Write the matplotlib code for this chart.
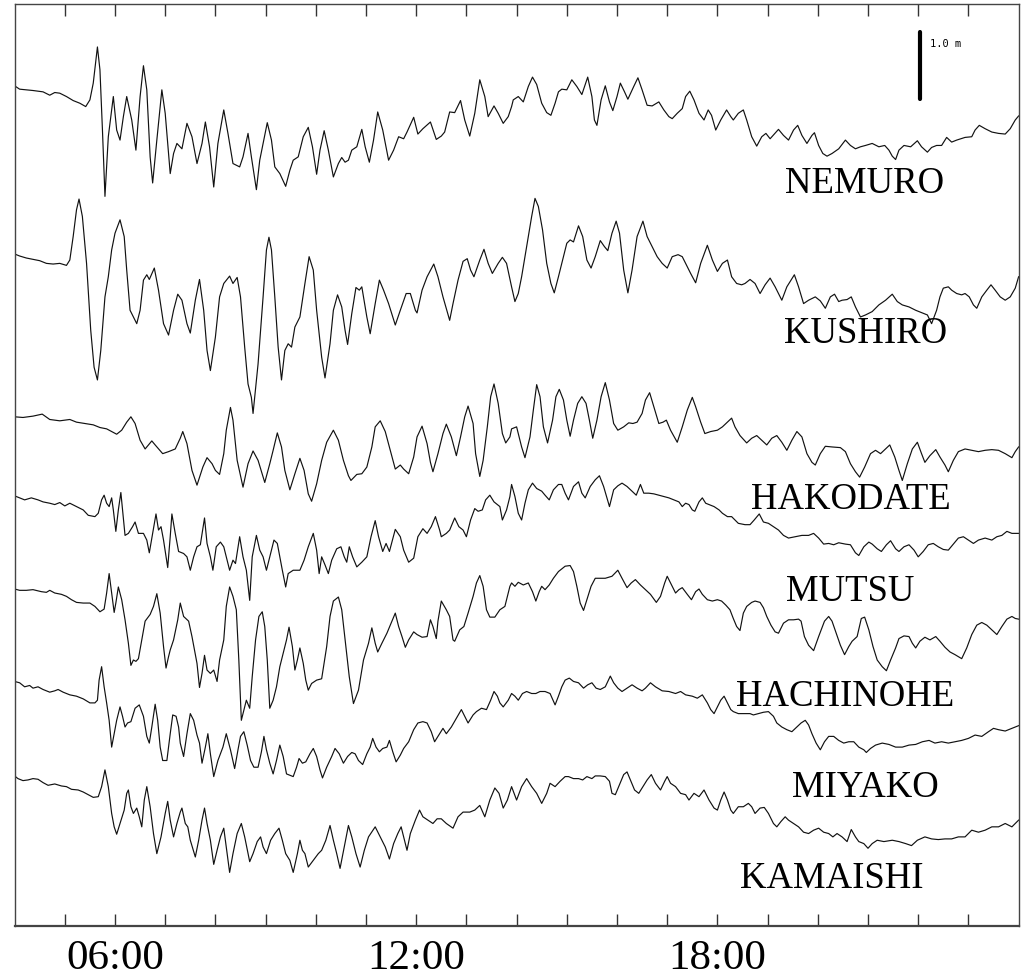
import numpy as np
import matplotlib
matplotlib.use("Agg")
import matplotlib.pyplot as plt

# Tide gauge records, minutes after 04:00 JST and sea level change in cm
stations = ["NEMURO", "KUSHIRO", "HAKODATE", "MUTSU", "HACHINOHE", "MIYAKO", "KAMAISHI"]

nemuro_min = [0, 6, 14, 22, 34, 42, 48, 54, 62, 70, 78, 85, 90, 94, 99, 102, 105, 108, 112, 118,
              122, 126, 130, 134, 140, 145, 150, 154, 158, 162, 165, 170, 176, 180, 186, 190, 194, 200, 206, 212,
              218, 224, 228, 233, 238, 243, 250, 255, 261, 269, 273, 279, 283, 289, 293, 302, 307, 311, 317, 324,
              329, 333, 339, 345, 351, 356, 361, 365, 370, 375, 381, 387, 391, 395, 399, 403, 409, 415, 419, 424,
              429, 434, 440, 447, 453, 459, 465, 469, 477, 482, 488, 497, 504, 510, 514, 520, 526, 533, 538, 544,
              550, 556, 562, 566, 573, 578, 584, 590, 594,
              596, 602, 608, 614, 619, 624, 630, 636, 641, 646, 650, 654, 660, 666, 672, 678, 685, 690, 693, 696,
              701, 706, 711, 715, 720, 724, 729, 733, 740, 745, 750, 756, 762, 770, 776, 782, 786, 792, 798, 802,
              807, 812, 818, 824, 829, 833, 838, 844, 851, 856, 859, 865, 871, 875, 881, 887, 893, 898, 903, 913,
              919, 925, 931, 936, 941, 947, 953, 956, 961, 966, 971, 977, 985, 993, 999, 1005, 1011, 1017, 1025, 1033,
              1040, 1045, 1049, 1053, 1057, 1063, 1071, 1079, 1084, 1091, 1096, 1102, 1108, 1114, 1120, 1126, 1136, 1144, 1148, 1153,
              1160, 1168, 1176, 1184, 1190, 1196, 1200]
nemuro_cm = [0, -5, -6, -7, -9, -14, -10, -11, -16, -22, -26, -31, -21, 4, 58, 24, -66, -165, -76, -16,
             -66, -81, -46, -16, -51, -96, -16, 30, -6, -106, -145, -81, -6, -41, -131, -101, -86, -94, -56, -76,
             -116, -86, -54, -91, -151, -86, -36, -71, -116, -121, -106, -71, -106, -155, -111, -55, -81, -121, -131, -150,
             -126, -111, -106, -76, -62, -91, -132, -96, -67, -96, -136, -116, -107, -114, -111, -96, -91, -65, -91, -114,
             -81, -39, -66, -111, -96, -76, -79, -69, -47, -72, -64, -54, -80, -75, -69, -39, -40, -22, -51, -75,
             -41, 9, -16, -46, -30, -41, -56, -46, -31,
             -21, -16, -24, -1, 13, 2, -26, -40, -44, -26, -9, -5, -6, 9, -1, -13, 13, -16, -51, -59,
             -21, 0, -24, -37, -16, 4, -9, -20, -1, 12, -6, -29, -30, -24, -36, -46, -49, -41, -34, -16,
             -8, -21, -41, -51, -36, -44, -66, -51, -36, -46, -51, -41, -36, -51, -76, -90, -76, -71, -79, -65,
             -74, -81, -66, -59, -74, -86, -74, -70, -89, -101, -105, -101, -94, -81, -89, -94, -91, -89, -86, -91,
             -89, -96, -105, -110, -96, -89, -91, -82, -91, -99, -92, -89, -89, -77, -84, -81, -77, -76, -66, -59,
             -64, -69, -71, -72, -64, -51, -45]

kushiro_min = [0, 6, 14, 22, 30, 38, 46, 54, 62, 66, 70, 74, 77, 81, 86, 91, 95, 99, 103, 108,
               112, 116, 120, 126, 131, 134, 138, 142, 146, 150, 154, 158, 161, 167, 172, 178, 184, 190, 195, 200,
               206, 210, 216, 221, 226, 230, 234, 240, 245, 250, 257, 261, 266, 270, 275, 279, 283, 285, 291, 297,
               301, 304, 307, 311, 315, 319, 323, 327, 331, 335, 341, 347, 352, 357, 361, 367, 371, 377, 381, 386,
               391, 395, 398, 403, 408, 412, 415, 421, 425, 431, 436, 441, 447, 455, 461, 468, 473, 479, 481, 487,
               493, 501, 506, 512, 520, 524, 530, 536, 541, 545, 549, 556, 561, 566, 571, 578, 583, 588, 594,
               598, 602, 606, 612, 618, 622, 626, 631, 636, 641, 645, 650, 656, 660, 664, 668, 674, 679, 684, 689,
               694, 700, 705, 709, 714, 719, 723, 728, 733, 738, 744, 751, 756, 762, 768, 774, 780, 786, 793, 798,
               802, 808, 814, 820, 828, 834, 840, 846, 852, 857, 863, 869, 873, 879, 885, 891, 897, 903, 909, 917,
               923, 932, 937, 943, 949, 957, 963, 969, 975, 980, 985, 989, 995, 1000, 1005, 1011, 1017, 1025, 1033, 1041,
               1049, 1055, 1061, 1069, 1077, 1085, 1091, 1096, 1102, 1106, 1110, 1116, 1120, 1126, 1132, 1136, 1141, 1146, 1150, 1156,
               1162, 1167, 1172, 1178, 1184, 1190, 1196, 1200]
kushiro_cm = [0, -3, -6, -8, -10, -14, -15, -14, -17, -9, 26, 66, 82, 56, -14, -114, -169, -188, -144, -64,
              -34, 6, 31, 51, 26, -24, -84, -94, -104, -84, -39, -31, -38, -21, -54, -104, -121, -84, -60, -69,
              -104, -118, -69, -38, -84, -144, -174, -124, -64, -44, -33, -44, -35, -64, -139, -194, -214, -238, -164, -64,
              6, 25, 6, -64, -139, -188, -144, -134, -139, -109, -94, -44, -4, -24, -84, -154, -185, -134, -84, -61,
              -79, -114, -135, -89, -50, -54, -49, -94, -119, -74, -39, -54, -74, -106, -84, -59, -59, -84, -88, -54,
              -34, -15, -34, -64, -99, -74, -39, -11, -7, -24, -34, -9, 7, -14, -29, -14, -5, -14, -49,
              -71, -59, -34, 11, 56, 83, 71, 36, -14, -44, -58, -34, -4, 16, 21, 18, 42, 26, -9, -21,
              -4, 20, 11, 5, 31, 49, 31, -24, -58, -24, 26, 49, 26, 11, -4, -14, -21, -4, -1, -4,
              -14, -29, -43, -14, 13, -9, -26, -14, -9, -34, -44, -46, -44, -38, -44, -59, -46, -36, -49, -69,
              -49, -31, -49, -74, -69, -64, -70, -81, -64, -60, -71, -69, -68, -64, -79, -94, -91, -86, -76, -69,
              -60, -71, -76, -79, -84, -88, -91, -104, -84, -64, -51, -49, -54, -59, -61, -59, -64, -76, -81, -64,
              -54, -46, -54, -64, -69, -64, -51, -34]

hakodate_min = [0, 10, 22, 33, 42, 54, 66, 74, 84, 94, 102, 110, 116, 122, 128, 134, 139, 144, 150, 156,
                160, 164, 168, 177, 184, 192, 198, 201, 206, 212, 218, 225, 230, 236, 240, 245, 250, 253, 258, 261,
                266, 273, 279, 285, 291, 299, 305, 309, 314, 319, 323, 329, 335, 341, 346, 351, 355, 361, 367, 373,
                381, 387, 393, 399, 402, 409, 415, 421, 427, 431, 437, 443, 449, 455, 461, 465, 471, 477, 481, 487,
                493, 497, 500, 506, 512, 516, 522, 528, 533, 538, 542, 548, 551, 556, 560, 565, 569, 573, 578, 583,
                587, 592, 594,
                600, 606, 610, 616, 620, 624, 628, 632, 637, 643, 647, 651, 656, 660, 664, 668, 673, 678, 683, 687,
                691, 696, 701, 706, 711, 716, 721, 728, 734, 739, 744, 750, 754, 759, 764, 770, 775, 779, 784, 792,
                798, 804, 810, 814, 820, 825, 832, 840, 846, 852, 857, 861, 867, 875, 881, 887, 893, 899, 905, 911,
                917, 923, 929, 935, 941, 947, 953, 957, 963, 969, 977, 987, 993, 999, 1005, 1010, 1016, 1023, 1029, 1035,
                1041, 1046, 1052, 1057, 1061, 1067, 1073, 1079, 1084, 1088, 1094, 1101, 1106, 1112, 1116, 1122, 1128, 1136, 1144, 1152,
                1160, 1168, 1176, 1184, 1192, 1196, 1200]
hakodate_cm = [0, -1, 1, 4, -4, -6, -4, -8, -10, -12, -16, -18, -22, -26, -20, -8, 0, -10, -35, -48,
               -42, -36, -42, -55, -52, -48, -32, -22, -40, -80, -102, -75, -61, -70, -80, -86, -55, -20, 14, -5,
               -65, -105, -70, -51, -65, -98, -70, -50, -24, -45, -80, -109, -85, -62, -80, -115, -126, -100, -65, -38,
               -20, -35, -65, -88, -95, -86, -85, -75, -45, -15, -6, -22, -50, -78, -72, -78, -85, -60, -30, -14,
               -40, -68, -82, -55, -25, -11, -30, -58, -30, 0, 16, -10, -55, -89, -65, -15, 30, 49, 20, -25,
               -39, -30, -18,
               -15, -45, -61, -30, 10, 48, 30, -15, -39, -5, 30, 41, 25, -5, -29, -5, 20, 30, 20, -5,
               -32, -5, 30, 51, 25, -10, -20, -15, -9, -10, -8, 5, 25, 36, 15, -10, -8, -5, -20, -38,
               -15, 10, 29, 15, -8, -25, -22, -20, -15, -8, -2, -15, -28, -39, -32, -28, -35, -42, -32, -28,
               -38, -50, -35, -22, -30, -55, -68, -72, -55, -44, -45, -46, -52, -70, -82, -90, -75, -55, -50, -55,
               -48, -42, -60, -80, -95, -70, -48, -38, -55, -68, -58, -49, -60, -72, -82, -65, -52, -48, -50, -52,
               -50, -49, -50, -55, -61, -52, -45]

mutsu_min = [0, 6, 12, 20, 28, 34, 42, 48, 54, 60, 66, 74, 82, 88, 96, 100, 104, 107, 110, 113,
             116, 118, 121, 124, 127, 129, 132, 136, 141, 144, 148, 154, 158, 161, 165, 169, 172, 175, 178, 183,
             186, 188, 192, 196, 202, 206, 210, 214, 218, 222, 227, 230, 234, 237, 241, 246, 250, 254, 257, 261,
             264, 269, 273, 277, 281, 284, 289, 293, 297, 301, 305, 310, 314, 317, 320, 324, 327, 333, 341, 346,
             351, 357, 361, 364, 367, 371, 375, 379, 385, 390, 394, 397, 400, 404, 409, 415, 421, 426, 431, 435,
             440, 444, 448, 455, 461, 465, 471, 477, 482, 488, 493, 498, 503, 508, 510, 516, 520, 526, 531, 536,
             540, 545, 550, 554, 559, 563, 568, 573, 580, 583, 588, 592, 594,
             598, 602, 606, 610, 614, 619, 624, 630, 634, 639, 644, 650, 654, 658, 662, 668, 674, 678, 682, 688,
             694, 699, 704, 708, 711, 716, 721, 726, 732, 738, 743, 748, 752, 758, 764, 770, 776, 782, 788, 794,
             798, 802, 806, 810, 813, 818, 822, 826, 830, 836, 842, 846, 852, 857, 865, 873, 879, 884, 890, 895,
             901, 907, 913, 919, 925, 933, 941, 949, 955, 961, 967, 973, 979, 985, 993, 999, 1005, 1009, 1015, 1021,
             1025, 1031, 1036, 1042, 1047, 1053, 1057, 1063, 1069, 1075, 1080, 1086, 1092, 1098, 1104, 1110, 1116, 1122, 1128, 1134,
             1140, 1146, 1152, 1160, 1168, 1174, 1180, 1186, 1192, 1200]
mutsu_cm = [1, -2, -5, -2, -5, -8, -10, -12, -9, -14, -10, -15, -20, -28, -30, -25, -5, 2, -10, -15,
            -2, -20, -52, -20, 6, -20, -58, -55, -45, -38, -55, -55, -65, -84, -55, -26, -50, -45, -65, -106,
            -60, -26, -55, -82, -85, -90, -110, -90, -75, -72, -32, -70, -90, -110, -75, -68, -75, -95, -110, -95,
            -100, -60, -90, -110, -155, -90, -58, -80, -90, -110, -90, -65, -70, -90, -110, -135, -115, -110, -110, -95,
            -75, -55, -80, -115, -90, -102, -115, -95, -78, -75, -90, -98, -75, -90, -105, -98, -90, -60, -36, -60,
            -82, -70, -82, -49, -60, -80, -98, -92, -60, -48, -55, -45, -30, -50, -60, -55, -50, -32, -45, -50,
            -60, -35, -18, -22, -20, -5, 2, -8, -15, -35, -20, 0, 18,
            0, -25, -35, -10, 10, 20, 12, 8, 2, -5, 10, 18, 18, 5, -5, 15, 22, 5, -2, 15,
            25, 31, 15, -2, -15, 10, 16, 20, 15, 8, 2, 18, 5, 5, 4, 2, 0, -2, -5, -8,
            -15, -10, -12, -20, -22, -8, -2, -10, -12, -15, -20, -25, -30, -30, -40, -42, -42, -35, -26, -38,
            -40, -45, -50, -58, -62, -60, -58, -58, -55, -62, -71, -70, -72, -69, -71, -72, -84, -88, -75, -68,
            -71, -78, -82, -72, -66, -78, -82, -75, -72, -80, -90, -82, -72, -70, -75, -79, -80, -71, -62, -60,
            -65, -70, -65, -62, -65, -60, -58, -52, -55, -55]

hachinohe_min = [0, 6, 14, 22, 32, 38, 42, 48, 56, 62, 68, 74, 82, 90, 96, 102, 107, 110, 113, 116,
                 119, 121, 124, 128, 132, 136, 139, 142, 145, 148, 152, 156, 162, 166, 170, 174, 178, 181, 184, 186,
                 190, 195, 198, 202, 208, 212, 218, 221, 224, 227, 230, 234, 238, 242, 245, 250, 253, 257, 261, 265,
                 268, 271, 275, 277, 281, 284, 288, 292, 296, 299, 302, 305, 309, 313, 317, 321, 325, 328, 332, 335,
                 338, 341, 345, 348, 351, 355, 361, 367, 373, 377, 381, 387, 391, 395, 400, 405, 411, 417, 423, 427,
                 431, 434, 439, 445, 450, 455, 459, 463, 467, 471, 477, 481, 487, 493, 497, 500, 504, 506, 510, 516,
                 520, 524, 526, 532, 537, 542, 548, 552, 556, 560, 564, 568, 574, 580, 586, 592, 594,
                 598, 602, 608, 614, 619, 623, 627, 630, 634, 639, 644, 650, 658, 664, 668, 672, 676, 680, 684, 689,
                 694, 700, 706, 714, 721, 726, 732, 737, 742, 748, 754, 760, 767, 772, 777, 780, 784, 790, 794, 798,
                 804, 809, 814, 818, 822, 828, 834, 840, 845, 850, 855, 859, 863, 867, 871, 875, 881, 885, 891, 895,
                 899, 904, 909, 913, 919, 925, 931, 937, 940, 944, 949, 955, 961, 968, 973, 977, 982, 987, 992, 997,
                 1001, 1007, 1012, 1016, 1021, 1026, 1031, 1037, 1042, 1047, 1053, 1057, 1063, 1069, 1073, 1077, 1082, 1088, 1094, 1101,
                 1106, 1112, 1118, 1124, 1132, 1138, 1144, 1150, 1156, 1162, 1168, 1174, 1180, 1186, 1192, 1196, 1200]
hachinohe_cm = [0, -2, -2, -1, -4, -5, -2, -6, -8, -11, -16, -20, -21, -21, -26, -34, -30, -6, 23, -6,
                -35, -21, 3, -16, -46, -81, -114, -106, -108, -104, -76, -48, -38, -26, -7, -36, -86, -118, -101, -91,
                -76, -46, -21, -41, -48, -71, -111, -147, -126, -99, -121, -126, -121, -138, -106, -76, -26, 3, -11, -31,
                -106, -196, -176, -166, -178, -131, -76, -41, -34, -56, -106, -178, -166, -146, -116, -96, -76, -57, -86, -121,
                -106, -88, -111, -136, -151, -141, -136, -134, -86, -41, -18, -12, -31, -76, -131, -171, -151, -106, -81, -58,
                -81, -94, -81, -66, -51, -36, -56, -71, -87, -76, -64, -68, -72, -71, -46, -56, -74, -48, -18, -31,
                -41, -76, -78, -61, -56, -36, -11, 9, 20, 4, -31, -42, -42, -31, -26, 4, 9,
                4, 10, 6, 9, -4, -18, -4, 4, -1, 6, 16, 26, 34, 35, 26, 4, -21, -32, -16, 4,
                16, 16, 16, 19, 28, 16, 2, 9, 14, 6, -1, -8, -20, -11, 9, 19, 9, -6, -1, 2,
                -8, -16, -4, 0, -8, -16, -18, -16, -18, -24, -31, -44, -56, -62, -36, -26, -20, -18, -20, -28,
                -41, -54, -64, -66, -51, -46, -46, -45, -48, -71, -84, -92, -71, -48, -41, -48, -66, -84, -98, -86,
                -78, -71, -44, -42, -61, -86, -106, -116, -122, -106, -88, -74, -70, -71, -81, -88, -78, -72, -76, -71,
                -78, -87, -94, -98, -104, -88, -68, -54, -50, -54, -61, -68, -56, -45, -41, -44, -45]

miyako_min = [0, 6, 12, 18, 22, 28, 34, 42, 48, 52, 58, 66, 74, 82, 90, 96, 99, 101, 104, 107,
              110, 113, 116, 119, 122, 126, 129, 132, 135, 139, 144, 149, 154, 158, 161, 164, 168, 171, 174, 177,
              182, 186, 189, 193, 196, 198, 202, 206, 210, 214, 218, 221, 224, 228, 231, 234, 238, 243, 249, 253,
              258, 263, 267, 270, 274, 278, 282, 286, 291, 295, 298, 301, 305, 309, 313, 317, 321, 325, 333, 337,
              340, 344, 348, 353, 357, 361, 365, 368, 373, 379, 383, 388, 393, 398, 403, 407, 411, 416, 421, 425,
              428, 432, 436, 440, 445, 448, 452, 456, 461, 465, 471, 477, 482, 488, 493, 498, 502, 508, 512, 516,
              522, 528, 534, 538, 542, 548, 552, 558, 564, 569, 573, 577, 580, 584, 590, 594,
              598, 602, 607, 612, 618, 623, 628, 634, 640, 646, 650, 654, 658, 663, 668, 674, 680, 685, 690, 695,
              700, 706, 712, 716, 721, 726, 732, 738, 744, 750, 754, 760, 766, 774, 782, 790, 796, 802, 810, 816,
              822, 828, 832, 836, 840, 844, 848, 852, 856, 859, 865, 873, 879, 883, 889, 895, 901, 907, 911, 917,
              923, 929, 935, 940, 945, 949, 953, 958, 963, 968, 973, 979, 985, 991, 997, 1003, 1009, 1015, 1018, 1023,
              1029, 1037, 1045, 1053, 1061, 1069, 1077, 1085, 1093, 1100, 1108, 1116, 1124, 1132, 1140, 1148, 1156, 1164, 1170, 1176,
              1184, 1192, 1200]
miyako_cm = [0, -2, -8, -6, -10, -8, -12, -16, -14, -12, -16, -20, -22, -26, -32, -32, -28, 2, 22, -8,
             -32, -58, -98, -78, -58, -38, -52, -68, -62, -60, -40, -35, -52, -82, -92, -68, -34, -58, -98, -118,
             -118, -78, -50, -52, -68, -92, -112, -78, -48, -58, -80, -92, -122, -98, -78, -108, -142, -118, -98, -78,
             -102, -130, -102, -82, -75, -95, -118, -128, -128, -105, -82, -102, -122, -138, -118, -95, -112, -138, -142, -128,
             -115, -122, -120, -108, -100, -112, -132, -144, -128, -112, -100, -108, -122, -112, -106, -108, -118, -124, -108, -98,
             -85, -98, -105, -100, -98, -88, -105, -120, -110, -100, -90, -72, -62, -60, -62, -75, -90, -78, -70, -78,
             -68, -55, -42, -52, -62, -50, -45, -40, -42, -28, -15, -22, -32, -38, -28, -18,
             -22, -28, -18, -15, -18, -18, -15, -15, -18, -35, -22, -8, 2, 5, 0, -2, -10, -5, -2, -10,
             -12, -8, 8, -2, -10, -15, -10, -5, -10, -14, -10, -2, -8, -14, -15, -18, -15, -20, -22, -25,
             -20, -32, -42, -48, -38, -28, -22, -32, -42, -45, -48, -48, -48, -50, -48, -46, -45, -52, -62, -68,
             -72, -75, -68, -62, -58, -65, -78, -92, -102, -90, -82, -82, -88, -92, -90, -90, -98, -102, -106, -100,
             -95, -92, -94, -98, -98, -95, -94, -90, -88, -92, -90, -92, -90, -88, -85, -80, -82, -75, -70, -72,
             -74, -70, -66]

kamaishi_min = [0, 4, 10, 16, 22, 28, 34, 40, 48, 56, 62, 68, 76, 82, 88, 94, 100, 104, 108, 112,
                116, 119, 122, 126, 131, 134, 136, 139, 142, 146, 149, 152, 155, 158, 162, 166, 170, 175, 180, 183,
                186, 190, 194, 198, 200, 204, 207, 210, 216, 220, 224, 227, 230, 234, 238, 242, 246, 250, 253, 257,
                261, 266, 271, 275, 281, 285, 290, 294, 297, 301, 306, 311, 316, 320, 324, 329, 333, 338, 341, 344,
                347, 351, 357, 363, 367, 372, 377, 381, 385, 389, 394, 399, 403, 408, 413, 418, 423, 431, 437, 443,
                448, 453, 458, 462, 465, 469, 473, 479, 484, 488, 494, 500, 505, 510, 516, 524, 530, 536, 544, 550,
                556, 562, 568, 574, 579, 584, 589, 594,
                597, 600, 606, 612, 618, 624, 630, 636, 640, 646, 652, 658, 662, 668, 674, 679, 684, 690, 694, 700,
                706, 711, 714, 718, 722, 728, 732, 736, 741, 746, 751, 756, 761, 766, 772, 777, 780, 784, 790, 796,
                802, 806, 812, 818, 824, 830, 836, 840, 844, 848, 852, 856, 859, 865, 871, 877, 881, 885, 891, 896,
                901, 907, 911, 916, 921, 925, 931, 937, 943, 949, 955, 961, 967, 973, 978, 983, 989, 995, 1000, 1005,
                1009, 1015, 1020, 1025, 1031, 1039, 1049, 1057, 1065, 1072, 1079, 1088, 1096, 1104, 1112, 1120, 1128, 1136, 1144, 1152,
                1160, 1168, 1176, 1184, 1192, 1200]
kamaishi_cm = [0, -4, -7, -6, -4, -5, -10, -14, -12, -15, -16, -20, -21, -24, -28, -32, -31, -16, 9, -16,
               -56, -76, -87, -71, -51, -26, -21, -46, -56, -48, -61, -76, -36, -16, -46, -86, -116, -91, -56, -38,
               -66, -91, -71, -54, -48, -71, -76, -96, -121, -96, -66, -48, -71, -96, -132, -111, -91, -78, -106, -144,
               -116, -86, -71, -91, -128, -116, -98, -91, -106, -116, -96, -86, -78, -96, -116, -126, -144, -116, -96, -111,
               -116, -136, -126, -116, -111, -96, -74, -96, -116, -138, -106, -74, -91, -116, -136, -111, -91, -76, -91, -106,
               -124, -101, -86, -76, -91, -111, -86, -66, -51, -61, -66, -71, -64, -64, -71, -78, -61, -54, -54, -51,
               -44, -61, -36, -18, -26, -48, -36, -16,
               -26, -36, -16, -4, -16, -26, -41, -26, -11, -16, -8, -1, -1, -4, -4, -6, -1, -4, 0, 0,
               -1, -8, -26, -28, -16, 2, 6, -6, -21, -26, -16, -6, 2, -11, -21, -8, -1, -11, -16, -26,
               -28, -36, -26, -31, -21, -36, -48, -51, -36, -24, -36, -51, -56, -46, -46, -41, -46, -56, -48, -47,
               -56, -71, -76, -68, -61, -66, -71, -76, -84, -86, -81, -78, -84, -86, -91, -86, -91, -98, -80, -91,
               -98, -101, -108, -101, -96, -98, -96, -98, -101, -104, -96, -91, -94, -95, -94, -94, -91, -91, -81, -84,
               -81, -76, -76, -71, -76, -66]

records_min = [nemuro_min, kushiro_min, hakodate_min, mutsu_min, hachinohe_min, miyako_min, kamaishi_min]
records_cm = [nemuro_cm, kushiro_cm, hakodate_cm, mutsu_cm, hachinohe_cm, miyako_cm, kamaishi_cm]

hour_ticks = list(range(5, 24))
hour_labels = {6: "06:00", 12: "12:00", 18: "18:00"}

# layout: baseline of every trace (m) and station name positions (hour, m)
offsets = [12.54, 10.03, 7.60, 6.41, 5.03, 3.65, 2.24]
label_pos = [(20.94, 10.94), (20.96, 8.70), (20.66, 6.22), (20.64, 4.85),
             (20.54, 3.28), (20.94, 1.93), (20.28, 0.57)]


def main():
    fig = plt.figure(figsize=(10.24, 9.77), dpi=100)
    ax = fig.add_axes([14.6 / 1024, 51 / 977, 1004 / 1024, 922 / 977])

    for name, mins, cms, off, (lx, ly) in zip(stations, records_min, records_cm, offsets, label_pos):
        t = 4 + np.array(mins) / 60.0
        h = off + np.array(cms) / 100.0
        ax.plot(t, h, color="#111111", lw=0.85, solid_joinstyle="round")
        ax.text(lx, ly, name, ha="center", va="baseline", fontsize=26.5,
                family=["Liberation Serif", "DejaVu Serif"])

    # 1.0 m scale bar
    ax.plot([22.04, 22.04], [12.34, 13.34], color="black", lw=3, solid_capstyle="round")
    ax.text(22.235, 13.17, "1.0 m", ha="left", va="center", fontsize=7.5,
            family=["DejaVu Sans Mono"])

    ax.set_xlim(4, 24)
    ax.set_ylim(0, 922 / 67)
    ax.set_yticks([])
    ax.set_xticks(hour_ticks)
    ax.set_xticklabels([hour_labels.get(h, "") for h in hour_ticks],
                       family=["Liberation Serif", "DejaVu Serif"], fontsize=31)
    ax.tick_params(axis="x", direction="in", length=8.4, width=1.0, top=True,
                   labeltop=False, pad=10, colors="#333333", labelcolor="black")
    for side in ["left", "right", "top"]:
        ax.spines[side].set_linewidth(1.0)
        ax.spines[side].set_color("#444444")
    ax.spines["bottom"].set_linewidth(1.6)
    ax.spines["bottom"].set_color("#444444")

    fig.savefig("out.png", dpi=100)


if __name__ == "__main__":
    main()
